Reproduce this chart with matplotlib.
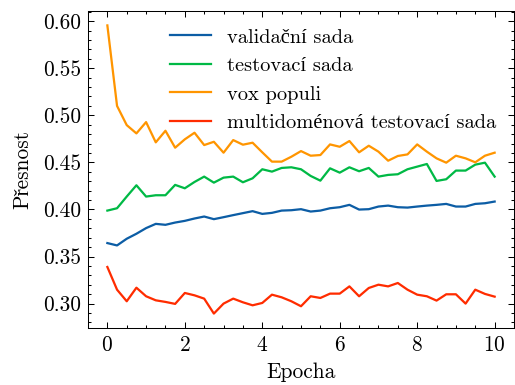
import numpy as np
import matplotlib.pyplot as plt
from matplotlib.ticker import AutoMinorLocator

plt.rcParams.update({
    'font.family': ['cmr10', 'Liberation Serif'],
    'font.size': 10.5,
    'axes.formatter.use_mathtext': True,
    'axes.linewidth': 0.5,
    'lines.linewidth': 1.0,
    'xtick.direction': 'in',
    'ytick.direction': 'in',
    'xtick.top': True,
    'ytick.right': True,
    'xtick.major.size': 3,
    'ytick.major.size': 3,
    'xtick.minor.size': 1.5,
    'ytick.minor.size': 1.5,
    'xtick.major.width': 0.5,
    'ytick.major.width': 0.5,
    'xtick.minor.width': 0.5,
    'ytick.minor.width': 0.5,
    'legend.frameon': False,
})

epochs = np.arange(41) * 0.25

validacni = [0.3643, 0.3618, 0.3689, 0.3742, 0.3802, 0.3847, 0.3837, 0.3861, 0.3879, 0.3904,
             0.3925, 0.3897, 0.3918, 0.3940, 0.3961, 0.3982, 0.3953, 0.3964, 0.3988, 0.3992,
             0.4003, 0.3978, 0.3988, 0.4013, 0.4024, 0.4049, 0.3999, 0.4003, 0.4031, 0.4041,
             0.4024, 0.4020, 0.4031, 0.4041, 0.4049, 0.4059, 0.4031, 0.4031, 0.4059, 0.4066,
             0.4084]

testovaci = [0.3988, 0.4013, 0.4137, 0.4257, 0.4137, 0.4151, 0.4151, 0.4261, 0.4225, 0.4292,
             0.4349, 0.4285, 0.4338, 0.4349, 0.4289, 0.4331, 0.4427, 0.4402, 0.4441, 0.4448,
             0.4427, 0.4356, 0.4306, 0.4437, 0.4391, 0.4448, 0.4406, 0.4441, 0.4349, 0.4367,
             0.4374, 0.4427, 0.4455, 0.4483, 0.4303, 0.4321, 0.4413, 0.4413, 0.4476, 0.4497,
             0.4349]

vox_populi = [0.5955, 0.5100, 0.4896, 0.4808, 0.4928, 0.4713, 0.4836, 0.4656, 0.4745, 0.4815,
              0.4684, 0.4719, 0.4603, 0.4737, 0.4688, 0.4709, 0.4607, 0.4508, 0.4508, 0.4560,
              0.4620, 0.4571, 0.4578, 0.4691, 0.4666, 0.4727, 0.4607, 0.4677, 0.4614, 0.4518,
              0.4568, 0.4585, 0.4691, 0.4614, 0.4543, 0.4497, 0.4571, 0.4543, 0.4501, 0.4571,
              0.4603]

multidomenova = [0.3389, 0.3148, 0.3025, 0.3169, 0.3078, 0.3035, 0.3018, 0.2997, 0.3113, 0.3088,
                 0.3053, 0.2894, 0.3000, 0.3053, 0.3014, 0.2982, 0.3007, 0.3095, 0.3067, 0.3025,
                 0.2972, 0.3078, 0.3060, 0.3106, 0.3106, 0.3183, 0.3078, 0.3166, 0.3201, 0.3183,
                 0.3219, 0.3148, 0.3095, 0.3078, 0.3032, 0.3099, 0.3099, 0.3000, 0.3148, 0.3103,
                 0.3074]

labels = ['validační sada', 'testovací sada', 'vox populi', 'multidoménová testovací sada']
colors = ['#0C5DA5', '#00B945', '#FF9500', '#FF2C00']

fig, ax = plt.subplots(figsize=(515 / 147, 385 / 147), dpi=147)
fig.subplots_adjust(left=88 / 515, right=514 / 515, top=1 - 11 / 385, bottom=1 - 328 / 385)

for series, label, color in zip([validacni, testovaci, vox_populi, multidomenova], labels, colors):
    ax.plot(epochs, series, color=color, label=label, lw=1.1)

ax.xaxis.set_minor_locator(AutoMinorLocator(4))
ax.yaxis.set_minor_locator(AutoMinorLocator(5))
ax.set_yticks([0.30, 0.35, 0.40, 0.45, 0.50, 0.55, 0.60])
ax.set_yticklabels(['0.30', '0.35', '0.40', '0.45', '0.50', '0.55', '0.60'])

ax.set_xlabel('Epocha', labelpad=4)
ax.set_ylabel('Přesnost', labelpad=5)
ax.legend(loc='upper right', fontsize=10, handlelength=2.0, labelspacing=0.5,
          borderaxespad=0.45)

fig.savefig('out.png', dpi=147)
